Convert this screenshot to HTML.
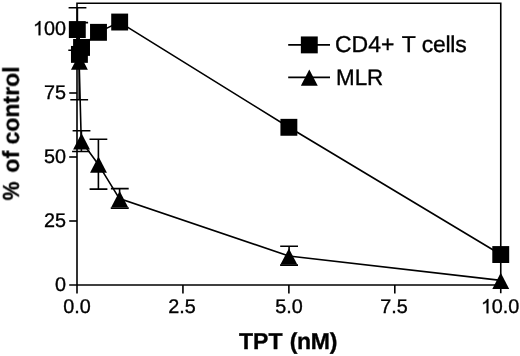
<!DOCTYPE html>
<html><head><meta charset="utf-8"><title>chart</title>
<style>
html,body{margin:0;padding:0;background:#fff;}
body{width:520px;height:356px;position:relative;overflow:hidden;font-family:"Liberation Sans",sans-serif;color:#000;}
.t{position:absolute;white-space:nowrap;line-height:1;will-change:transform;text-rendering:geometricPrecision;-webkit-text-stroke:0.35px #000;}
.yl{font-size:19.8px;text-align:right;width:60px;left:6px;}
.xl{font-size:19.8px;text-align:center;width:80px;margin-left:-0.25px;}
.lg{font-size:23px;}
.ax{font-size:23px;font-weight:bold;}
</style></head><body>
<svg width="520" height="356" viewBox="0 0 520 356" style="position:absolute;left:0;top:0">
<g stroke="#000" stroke-width="1.6" fill="none" stroke-linecap="butt">
<path d="M77 293.4 V3.25 H500.75 V293.3"/>
<path d="M69.2 285.0 H500.75"/>
<path d="M69.2 221.00 H77"/>
<path d="M69.2 157.00 H77"/>
<path d="M69.2 93.00 H77"/>
<path d="M69.2 29.00 H77"/>
<path d="M182.94 285.0 V293.5"/>
<path d="M288.88 285.0 V293.5"/>
<path d="M394.81 285.0 V293.5"/>
<path d="M77.4 7.8 V50.3 M68.60 7.80 H86.40 M68.30 50.30 H86.10 M79.2 22.6 V99.8 M70.30 22.60 H88.10 M70.30 99.80 H88.10 M81.4 130.8 V151.5 M72.60 130.80 H90.40 M72.10 151.50 H89.90 M98.4 139.2 V189.1 M89.50 139.20 H107.30 M89.60 189.10 H107.40 M119.6 188.6 V200 M110.90 188.60 H128.70 M110.75 208.15 H128.75 M289.1 246.2 V256 M280.20 246.20 H298.00 M280.10 265.10 H298.00"/>
<polyline points="77.00,29.56 79.12,54.40 81.24,47.43 98.19,32.33 119.38,22.04 288.88,127.30 500.75,254.54"/>
<polyline points="77.00,29.36 79.12,61.10 81.24,140.87 98.19,164.17 119.38,198.60 288.88,256.00 500.75,280.39"/>
<path d="M288.2 44.9 H330 M288.2 77.4 H330"/>
</g>
<g fill="#000" stroke="none">
<rect x="68.85" y="21.11" width="16.9" height="16.9"/>
<rect x="70.97" y="45.95" width="16.9" height="16.9"/>
<rect x="73.09" y="38.98" width="16.9" height="16.9"/>
<rect x="90.04" y="23.88" width="16.9" height="16.9"/>
<rect x="111.22" y="13.59" width="16.9" height="16.9"/>
<rect x="280.43" y="118.85" width="16.9" height="16.9"/>
<rect x="492.30" y="246.09" width="16.9" height="16.9"/>
<path d="M79.42 53.50 L87.87 69.70 H70.97 Z"/>
<path d="M81.54 133.27 L89.99 149.47 H73.09 Z"/>
<path d="M98.49 156.57 L106.94 172.77 H90.04 Z"/>
<path d="M119.67 191.00 L128.12 207.20 H111.22 Z"/>
<path d="M288.88 248.40 L297.32 264.60 H280.43 Z"/>
<path d="M500.75 272.79 L509.20 288.99 H492.30 Z"/>
<rect x="300.85" y="36.45" width="16.9" height="16.9"/>
<path d="M309.30 69.50 L317.75 85.70 H300.85 Z"/>
</g>
</svg>
<div class="t yl" style="top:19.6px"><svg style="width:0.556em;height:0.72em;vertical-align:baseline;overflow:visible" viewBox="0 -1474.56 1139 1474.56"><path transform="scale(1,-1)" fill="#000" stroke="#000" stroke-width="36" d="M763 0H583V1147Q518 1085 412.5 1023T223 930V1104Q373 1174.5 485.5 1275T644 1470H763Z"/></svg>00</div>
<div class="t yl" style="top:83.6px">75</div>
<div class="t yl" style="top:147.6px">50</div>
<div class="t yl" style="top:211.6px">25</div>
<div class="t yl" style="top:275.6px">0</div>
<div class="t xl" style="left:37.0px;top:298.3px">0.0</div>
<div class="t xl" style="left:142.5px;top:298.3px">2.5</div>
<div class="t xl" style="left:248.9px;top:298.3px">5.0</div>
<div class="t xl" style="left:354.3px;top:298.3px">7.5</div>
<div class="t xl" style="left:460.1px;top:298.3px"><svg style="width:0.556em;height:0.72em;vertical-align:baseline;overflow:visible" viewBox="0 -1474.56 1139 1474.56"><path transform="scale(1,-1)" fill="#000" stroke="#000" stroke-width="36" d="M763 0H583V1147Q518 1085 412.5 1023T223 930V1104Q373 1174.5 485.5 1275T644 1470H763Z"/></svg>0.0</div>
<div class="t lg" style="left:335.4px;top:32.8px">CD4+<span style="margin-left:1.2px"> </span>T <span style="letter-spacing:-0.25px">cells</span></div>
<div class="t lg" style="left:336.1px;top:66.7px;font-size:22.4px">MLR</div>
<div class="t ax" style="left:238.55px;top:329.6px">TPT<span style="margin-left:0.9px"> </span><span style="letter-spacing:-0.3px">(nM)</span></div>
<div class="t ax" style="left:0;top:0;transform-origin:0 0;transform:translate(-0.2px,199.4px) rotate(-90deg)"><span style="display:inline-block;transform:scaleX(0.92);transform-origin:0 50%;position:relative;left:-1.2px">%</span> of control</div>
</body></html>
